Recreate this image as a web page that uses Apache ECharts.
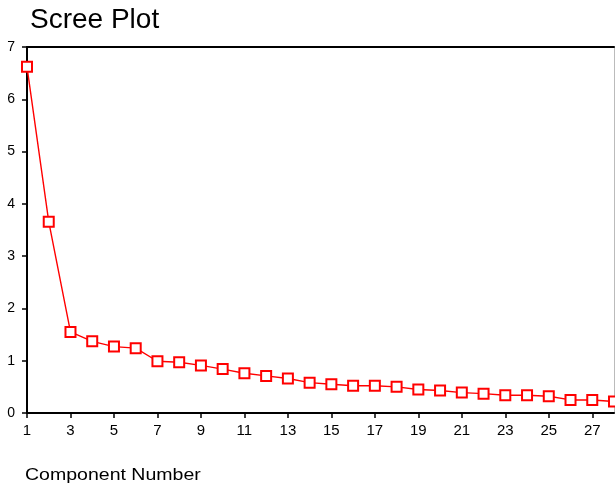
<!DOCTYPE html>
<html>
<head>
<meta charset="utf-8">
<script src="https://cdn.jsdelivr.net/npm/echarts@6/dist/echarts.min.js"></script>
<style>html,body{margin:0;padding:0;background:#fff;}#c{width:615px;height:487px;}</style>
</head>
<body>
<div id="c"></div>
<script>
var components = [1,2,3,4,5,6,7,8,9,10,11,12,13,14,15,16,17,18,19,20,21,22,23,24,25,26,27,28];
var eigenvalues = [6.62,3.66,1.55,1.37,1.27,1.24,0.99,0.97,0.91,0.84,0.76,0.71,0.66,0.58,0.55,0.52,0.52,0.50,0.45,0.43,0.39,0.37,0.34,0.34,0.32,0.25,0.25,0.22];
var titleText = 'Scree Plot';
var xAxisTitle = 'Component Number';

var chart = echarts.init(document.getElementById('c'), null, {renderer:'canvas'});
chart.setOption({
  animation:false,
  backgroundColor:'#ffffff',
  title:{
    text:titleText, left:25, top:1,
    textStyle:{fontFamily:'Liberation Sans', fontSize:28, fontWeight:'normal', color:'#000'}
  },
  graphic:[{
    type:'text', x:25, y:468, scaleX:1.22, scaleY:1,
    style:{text:xAxisTitle, font:'16px "Liberation Sans"', fill:'#000', textVerticalAlign:'top', verticalAlign:'top'}
  }],
  grid:{left:27, right:1, top:47, bottom:74, containLabel:false},
  xAxis:[{
    type:'category', data:components.map(String), boundaryGap:false,
    axisLine:{onZero:false, lineStyle:{color:'#000', width:2}},
    axisTick:{interval:1, length:5, lineStyle:{color:'#000', width:1.5}},
    axisLabel:{interval:1, margin:10, color:'#000', fontFamily:'Liberation Sans', fontSize:15},
    splitLine:{show:false}
  },{
    type:'category', position:'top', data:components.map(String), boundaryGap:false,
    axisLine:{onZero:false, lineStyle:{color:'#000', width:2}},
    axisTick:{show:false}, axisLabel:{show:false}
  }],
  yAxis:[{
    type:'value', min:0, max:7, interval:1,
    axisLine:{show:true, onZero:false, lineStyle:{color:'#000', width:2}},
    axisTick:{show:true, length:5, lineStyle:{color:'#000', width:1.5}},
    axisLabel:{margin:12, color:'#000', fontFamily:'Liberation Sans', fontSize:14},
    splitLine:{show:false}
  },{
    type:'value', min:0, max:7, interval:1, position:'right',
    axisLine:{show:true, onZero:false, lineStyle:{color:'#bbbbbb', width:1}},
    axisTick:{show:false}, axisLabel:{show:false}, splitLine:{show:false}
  }],
  series:[{
    type:'line', data:eigenvalues,
    symbol:'emptyRect', symbolSize:10,
    lineStyle:{color:'#ff0000', width:1.4},
    itemStyle:{color:'#ff0000', borderColor:'#ff0000', borderWidth:1.4}
  }]
});
</script>
</body>
</html>
